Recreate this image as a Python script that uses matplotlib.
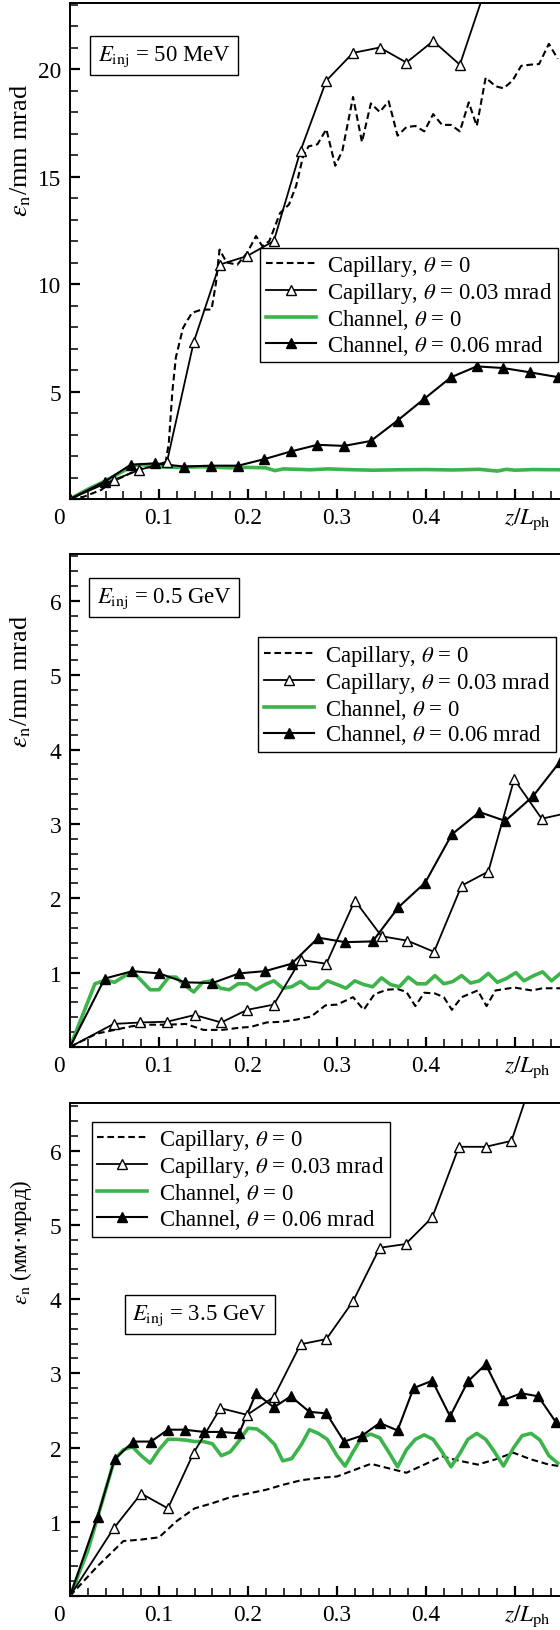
import matplotlib.pyplot as plt
from matplotlib.lines import Line2D
from matplotlib.ticker import FixedLocator, MultipleLocator

plt.rcParams["font.family"] = "Liberation Serif"
plt.rcParams["mathtext.fontset"] = "stix"

GREEN = "#3cb44b"
FS = 16.4

LABELS = [
    r"Capillary, $\theta$ = 0",
    r"Capillary, $\theta$ = 0.03 mrad",
    r"Channel, $\theta$ = 0",
    r"Channel, $\theta$ = 0.06 mrad",
]

# ---- panel 1: E_inj = 50 MeV ----
p1_cap0_x = [0, 0.015, 0.035, 0.047, 0.063, 0.079, 0.095, 0.107, 0.111, 0.115, 0.119,
             0.127, 0.137, 0.148, 0.159, 0.164, 0.168, 0.176, 0.188, 0.199, 0.209,
             0.216, 0.224, 0.236, 0.246, 0.254, 0.262, 0.268, 0.278, 0.288, 0.298,
             0.306, 0.318, 0.328, 0.338, 0.348, 0.358, 0.368, 0.378, 0.388, 0.398,
             0.408, 0.418, 0.428, 0.438, 0.448, 0.457, 0.467, 0.478, 0.487, 0.497,
             0.507, 0.517, 0.527, 0.538, 0.548]
p1_cap0_y = [0, 0.1, 0.42, 0.8, 1.1, 1.43, 1.5, 1.6, 2.6, 5.0, 6.6,
             7.96, 8.66, 8.81, 8.81, 10.05, 11.6, 11.0, 10.9, 11.45, 12.23,
             11.76, 12.0, 13.3, 13.7, 14.56, 15.96, 16.4, 16.5, 17.2, 15.5,
             16.2, 18.7, 16.6, 18.4, 18.0, 18.5, 16.9, 17.3, 17.35, 17.1,
             17.9, 17.4, 17.4, 17.1, 18.45, 17.35, 19.6, 19.2, 19.1, 19.45,
             20.15, 20.2, 20.23, 21.17, 20.47]
p1_cap3_x = [0, 0.049, 0.078, 0.109, 0.139, 0.168, 0.199, 0.229, 0.259, 0.288, 0.318,
             0.348, 0.378, 0.408, 0.438, 0.468, 0.498, 0.528, 0.558]
p1_cap3_y = [0, 0.89, 1.35, 1.74, 7.3, 10.9, 11.3, 12.0, 16.2, 19.46, 20.75,
             21.0, 20.3, 21.3, 20.2, 23.9, 25.5, 26.5, 27.5]
p1_ch0_x = [0, 0.02, 0.04, 0.06, 0.07, 0.08, 0.1, 0.12, 0.15, 0.18, 0.2, 0.22, 0.23,
            0.24, 0.27, 0.29, 0.31, 0.34, 0.37, 0.4, 0.43, 0.46, 0.48, 0.49, 0.5,
            0.52, 0.55]
p1_ch0_y = [0, 0.45, 0.85, 1.3, 1.55, 1.6, 1.5, 1.47, 1.5, 1.45, 1.47, 1.45, 1.32,
            1.4, 1.36, 1.4, 1.37, 1.34, 1.36, 1.37, 1.35, 1.38, 1.3, 1.38, 1.34,
            1.37, 1.36]
p1_ch6_x = [0, 0.039, 0.068, 0.095, 0.128, 0.158, 0.189, 0.218, 0.248, 0.278, 0.308,
            0.338, 0.368, 0.398, 0.428, 0.457, 0.487, 0.517, 0.548]
p1_ch6_y = [0, 0.81, 1.59, 1.66, 1.51, 1.55, 1.55, 1.85, 2.21, 2.52, 2.47,
            2.7, 3.65, 4.66, 5.66, 6.17, 6.09, 5.89, 5.67]

# ---- panel 2: E_inj = 0.5 GeV ----
p2_cap0_x = [0, 0.03, 0.05, 0.07, 0.09, 0.11, 0.13, 0.15, 0.171, 0.191, 0.203, 0.221,
             0.239, 0.255, 0.271, 0.287, 0.3, 0.318, 0.33, 0.342, 0.356, 0.368,
             0.378, 0.388, 0.398, 0.41, 0.42, 0.429, 0.44, 0.458, 0.468, 0.478,
             0.499, 0.519, 0.531, 0.551]
p2_cap0_y = [0, 0.18, 0.23, 0.28, 0.3, 0.3, 0.31, 0.23, 0.23, 0.26, 0.27, 0.33,
             0.34, 0.37, 0.41, 0.56, 0.57, 0.67, 0.5, 0.71, 0.77, 0.78,
             0.74, 0.55, 0.73, 0.72, 0.67, 0.5, 0.67, 0.76, 0.55, 0.76,
             0.8, 0.76, 0.79, 0.79]
p2_cap3_x = [0, 0.049, 0.079, 0.109, 0.14, 0.17, 0.199, 0.229, 0.259, 0.288, 0.32,
             0.35, 0.379, 0.409, 0.44, 0.47, 0.499, 0.53, 0.56]
p2_cap3_y = [0, 0.31, 0.33, 0.34, 0.43, 0.33, 0.5, 0.57, 1.17, 1.12, 1.97,
             1.49, 1.43, 1.28, 2.17, 2.36, 3.6, 3.07, 3.15]
p2_ch0_x = [0, 0.028, 0.04, 0.05, 0.07, 0.09, 0.1, 0.111, 0.119, 0.129, 0.139, 0.149,
            0.159, 0.169, 0.179, 0.189, 0.199, 0.209, 0.219, 0.229, 0.239, 0.249,
            0.259, 0.269, 0.279, 0.289, 0.3, 0.31, 0.32, 0.33, 0.34, 0.35, 0.36,
            0.37, 0.38, 0.39, 0.4, 0.41, 0.42, 0.43, 0.44, 0.45, 0.46, 0.47, 0.48,
            0.49, 0.501, 0.51, 0.521, 0.531, 0.541, 0.551]
p2_ch0_y = [0, 0.85, 0.9, 0.87, 1.02, 0.77, 0.77, 0.94, 0.94, 0.83, 0.74, 0.87,
            0.89, 0.79, 0.77, 0.85, 0.85, 0.77, 0.84, 0.89, 0.79, 0.81,
            0.88, 0.79, 0.79, 0.89, 0.84, 0.79, 0.89, 0.84, 0.81, 0.93, 0.84,
            0.81, 0.94, 0.85, 0.85, 0.96, 0.85, 0.88, 0.96, 0.86, 0.89, 0.99, 0.87,
            0.92, 1.0, 0.89, 0.96, 1.01, 0.89, 0.99]
p2_ch6_x = [0, 0.039, 0.07, 0.1, 0.129, 0.16, 0.19, 0.219, 0.249, 0.279, 0.309,
            0.34, 0.369, 0.399, 0.429, 0.46, 0.489, 0.52, 0.55]
p2_ch6_y = [0, 0.92, 1.02, 0.99, 0.87, 0.86, 0.99, 1.02, 1.12, 1.47, 1.41,
            1.42, 1.88, 2.21, 2.86, 3.16, 3.04, 3.37, 3.83]

# ---- panel 3: E_inj = 3.5 GeV ----
p3_cap0_x = [0, 0.03, 0.06, 0.08, 0.1, 0.12, 0.14, 0.16, 0.18, 0.2, 0.22, 0.24, 0.26,
             0.28, 0.3, 0.32, 0.338, 0.358, 0.378, 0.398, 0.418, 0.438, 0.458,
             0.478, 0.498, 0.518, 0.538, 0.55]
p3_cap0_y = [0, 0.39, 0.74, 0.76, 0.79, 1.01, 1.18, 1.25, 1.33, 1.38, 1.43, 1.5, 1.56,
             1.59, 1.61, 1.7, 1.78, 1.72, 1.66, 1.77, 1.88, 1.82, 1.77,
             1.84, 1.93, 1.84, 1.77, 1.75]
p3_cap3_x = [0, 0.049, 0.08, 0.11, 0.139, 0.169, 0.199, 0.229, 0.259, 0.288, 0.318,
             0.348, 0.377, 0.407, 0.437, 0.467, 0.496, 0.526, 0.556]
p3_cap3_y = [0, 0.91, 1.38, 1.18, 1.93, 2.53, 2.44, 2.68, 3.39, 3.46, 3.97,
             4.69, 4.74, 5.1, 6.05, 6.05, 6.13, 7.2, 7.8]
p3_ch0_x = [0, 0.02, 0.032, 0.05, 0.06, 0.07, 0.08, 0.09, 0.1, 0.11, 0.12, 0.13, 0.14,
            0.15, 0.16, 0.17, 0.18, 0.19, 0.2, 0.21, 0.22, 0.23, 0.239, 0.249, 0.26,
            0.269, 0.279, 0.289, 0.3, 0.309, 0.318, 0.328, 0.338, 0.348, 0.358,
            0.368, 0.378, 0.388, 0.398, 0.408, 0.418, 0.428, 0.438, 0.447, 0.457,
            0.467, 0.477, 0.487, 0.498, 0.508, 0.518, 0.528, 0.538, 0.548]
p3_ch0_y = [0, 0.61, 1.1, 1.84, 1.97, 2.01, 1.89, 1.79, 1.97, 2.11, 2.11, 2.1, 2.08,
            2.08, 2.05, 1.89, 1.94, 2.09, 2.26, 2.25, 2.16, 2.04, 1.82, 1.85, 2.04,
            2.24, 2.19, 2.11, 1.89, 1.75, 1.94, 2.14, 2.18, 2.13, 1.94,
            1.74, 1.97, 2.11, 2.17, 2.11, 1.94, 1.74, 1.92, 2.11, 2.19,
            2.11, 1.94, 1.75, 1.99, 2.16, 2.19, 2.1, 1.89, 1.79]
p3_ch6_x = [0, 0.031, 0.05, 0.071, 0.091, 0.11, 0.129, 0.15, 0.17, 0.19, 0.209, 0.229,
            0.248, 0.269, 0.288, 0.308, 0.328, 0.348, 0.368, 0.386, 0.407, 0.427,
            0.447, 0.467, 0.487, 0.507, 0.526, 0.546]
p3_ch6_y = [0, 1.07, 1.84, 2.08, 2.08, 2.24, 2.24, 2.21, 2.21, 2.19, 2.73, 2.54,
            2.69, 2.48, 2.46, 2.08, 2.16, 2.33, 2.23, 2.8, 2.9, 2.42,
            2.89, 3.12, 2.64, 2.73, 2.69, 2.34]

FIG_W, FIG_H = 560, 1631
AX_LEFT = 70


def make_axes(fig, top, bottom):
    return fig.add_axes([AX_LEFT / FIG_W, 1 - bottom / FIG_H,
                         (FIG_W - AX_LEFT) / FIG_W, (bottom - top) / FIG_H])


def draw_panel(fig, ax, series, ymax, ymajor, yminor, ylabel, ylabel_y, ylabel_fs,
               leg_xy, box_text, box_xy):
    (c0x, c0y), (c3x, c3y), (g0x, g0y), (h6x, h6y) = series
    ax.plot(c0x, c0y, color="black", lw=1.5, linestyle=(0, (3.2, 1.8)))
    ax.plot(g0x, g0y, color=GREEN, lw=2.6)
    ax.plot(h6x, h6y, color="black", lw=1.5, marker="^", ms=7.5,
            mfc="black", mec="black")
    ax.plot(c3x, c3y, color="black", lw=1.3, marker="^", ms=7.5,
            mfc="white", mec="black", mew=1.0)

    ax.set_xlim(0, 0.5505)
    ax.set_ylim(0, ymax)
    for side in ["left", "bottom", "top"]:
        ax.spines[side].set_linewidth(1.4)
    ax.spines["right"].set_visible(False)

    ax.xaxis.set_major_locator(FixedLocator([0.1, 0.2, 0.3, 0.4, 0.5]))
    ax.set_xticklabels(["0.1", "0.2", "0.3", "0.4", ""])
    ax.xaxis.set_minor_locator(MultipleLocator(0.02))
    ax.yaxis.set_major_locator(MultipleLocator(ymajor))
    ax.yaxis.set_minor_locator(MultipleLocator(yminor))
    ax.yaxis.set_major_formatter(lambda v, p: "" if v == 0 else f"{v:g}")
    ax.tick_params(which="both", direction="in", top=False, right=False,
                   labelsize=16.8, width=1.1)
    ax.tick_params(which="major", length=7, width=1.6, pad=6)
    ax.tick_params(which="minor", length=6)

    tr = ax.get_xaxis_transform()
    ax.annotate("0", xy=(-0.012, 0), xycoords=tr, xytext=(0, -6),
                textcoords="offset points", ha="center", va="top", fontsize=16.8)
    ax.annotate(r"$z/L_{\rm ph}$", xy=(0.514, 0), xycoords=tr, xytext=(0, -5),
                textcoords="offset points", ha="center", va="top", fontsize=16.8)

    fig.text(21 / FIG_W, 1 - ylabel_y / FIG_H, ylabel, rotation=90,
             ha="center", va="center", fontsize=ylabel_fs)

    ax.text(box_xy[0], box_xy[1], box_text, transform=ax.transAxes,
            ha="center", va="center", fontsize=FS,
            bbox=dict(boxstyle="square,pad=0.32", fc="white", ec="black", lw=1.0))

    handles = [
        Line2D([], [], color="black", lw=1.5, linestyle=(0, (3.2, 1.8))),
        Line2D([], [], color="black", lw=1.3, marker="^", ms=7.5, mfc="white", mec="black"),
        Line2D([], [], color=GREEN, lw=2.6),
        Line2D([], [], color="black", lw=1.5, marker="^", ms=7.5, mfc="black"),
    ]
    leg = ax.legend(handles, LABELS, loc="upper left", bbox_to_anchor=leg_xy,
                    fontsize=FS, frameon=True, fancybox=False, framealpha=1,
                    edgecolor="black", borderaxespad=0, borderpad=0.25,
                    labelspacing=0.08, handlelength=2.2, handletextpad=0.5)
    leg.get_frame().set_linewidth(1.0)


fig = plt.figure(figsize=(FIG_W / 100, FIG_H / 100), dpi=100)

ax1 = make_axes(fig, 4, 500)
draw_panel(fig, ax1,
           [(p1_cap0_x, p1_cap0_y), (p1_cap3_x, p1_cap3_y),
            (p1_ch0_x, p1_ch0_y), (p1_ch6_x, p1_ch6_y)],
           23.07, 5, 1, r"$\epsilon_{\rm n}$/mm mrad", 151, 19,
           (0.388, 0.507), r"$E_{\rm inj}$ = 50 MeV", (0.192, 0.894))

ax2 = make_axes(fig, 555, 1048)
draw_panel(fig, ax2,
           [(p2_cap0_x, p2_cap0_y), (p2_cap3_x, p2_cap3_y),
            (p2_ch0_x, p2_ch0_y), (p2_ch6_x, p2_ch6_y)],
           6.63, 1, 0.2, r"$\epsilon_{\rm n}$/mm mrad", 682, 19,
           (0.384, 0.831), r"$E_{\rm inj}$ = 0.5 GeV", (0.192, 0.912))

ax3 = make_axes(fig, 1104, 1597)
draw_panel(fig, ax3,
           [(p3_cap0_x, p3_cap0_y), (p3_cap3_x, p3_cap3_y),
            (p3_ch0_x, p3_ch0_y), (p3_ch6_x, p3_ch6_y)],
           6.64, 1, 0.2, r"$\epsilon_{\rm n}$ (мм·мрад)", 1242, 16.5,
           (0.044, 0.962), r"$E_{\rm inj}$ = 3.5 GeV", (0.265, 0.571))

fig.savefig("out.png", dpi=100, facecolor="white")
plt.close(fig)
